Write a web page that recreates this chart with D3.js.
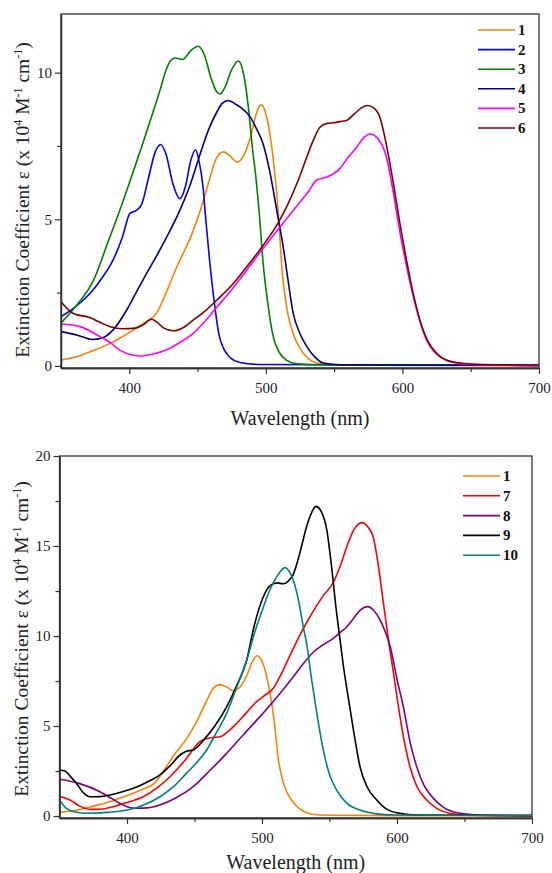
<!DOCTYPE html>
<html>
<head>
<meta charset="utf-8">
<script src="https://cdn.jsdelivr.net/npm/d3@7"></script>
<style>
  html, body { margin: 0; padding: 0; background: #fff; }
  svg { display: block; }
</style>
</head>
<body>
<svg id="chart" width="552" height="873"></svg>
<script>
// ---------------- DATA ----------------
// Top panel: compounds 1-6
const wl1  = [350,364,375,386,395,405,412,420,427,435,445,452,459,464,469,474,479,484,489,493,496.5,500,503,506,509,512,516,520,525,531,537,550,600,700];
const eps1 = [0.2,0.35,0.55,0.77,1.0,1.28,1.5,1.8,2.5,3.4,4.4,5.3,6.4,7.1,7.3,7.15,6.95,7.2,7.85,8.6,8.9,8.6,7.9,6.8,5.3,3.2,1.8,1.1,0.6,0.25,0.1,0.04,0.02,0.01];

const wl2  = [350,360,373.6,380,388,395,400.5,405,409,414,419,423,427,432,437,441,445,448.5,451,454,456,459,462.7,465.5,469,474,481,495,700];
const eps2 = [1.68,2.0,2.6,3.0,3.6,4.4,5.2,5.3,5.5,6.4,7.3,7.55,7.2,6.2,5.7,6.1,7.0,7.37,7.0,6.1,5.0,3.5,2.0,1.1,0.6,0.28,0.12,0.05,0.02];

const wl3  = [350,362,373.6,385,393,400.5,410,417,422.5,427,430,433.5,439,445,450.5,455,460,464,466.5,470,475,479.8,483,487,490,493,495,498,501.5,505.4,510,515,522,535,700];
const eps3 = [1.46,2.1,2.9,4.3,5.3,6.3,7.6,8.6,9.4,10.1,10.4,10.5,10.45,10.75,10.9,10.6,9.8,9.35,9.27,9.5,10.1,10.4,10.1,8.9,7.5,6.3,5.3,3.5,2.1,1.0,0.45,0.2,0.08,0.04,0.02];

const wl4  = [350,362,373,380,388,398,405,412,420,428,436,444,451,458,464,468,472.5,477,482,488.4,493,498,503,508,512.7,516,520,525,530,536,542,555,700];
const eps4 = [1.17,1.05,0.9,0.95,1.22,1.9,2.5,3.1,3.75,4.45,5.2,6.1,7.1,8.05,8.65,8.95,9.05,8.95,8.8,8.5,8.1,7.57,6.6,5.3,4.06,3.0,1.8,1.1,0.66,0.3,0.1,0.04,0.02];

const wl5  = [350,364,378.5,386,393,400,407.8,417,427,437,446.8,455,464,475,486,497,508,520,532,537,544.5,554,560,566.5,571,576.2,581,588.4,593,598,603,608,613,617.7,624,632,642,652,700];
const eps5 = [1.43,1.34,1.0,0.8,0.54,0.4,0.34,0.4,0.54,0.8,1.11,1.5,2.0,2.6,3.27,3.95,4.6,5.3,6.0,6.33,6.44,6.72,7.1,7.46,7.75,7.91,7.8,7.1,6.0,4.6,3.4,2.36,1.5,0.88,0.45,0.2,0.08,0.05,0.02];

const wl6  = [350,359,371,378,386,395,403,410,416.4,420,425,432.2,440,446.8,455,464,475,486,497,508,516,523.7,529,534.7,539.6,545,549.4,554,559,565,570,574.5,579,583.5,588,593,598,603,608,612.8,618,625,632,642,660,700];
const eps6 = [2.19,1.79,1.65,1.5,1.34,1.27,1.28,1.4,1.59,1.5,1.3,1.2,1.32,1.56,1.85,2.24,2.75,3.38,4.05,4.8,5.5,6.33,7.0,7.69,8.14,8.27,8.29,8.33,8.37,8.6,8.8,8.88,8.8,8.48,7.6,6.33,4.9,3.6,2.45,1.56,0.9,0.43,0.2,0.1,0.05,0.03];

// Bottom panel: compounds 1, 7-10
const wl7  = [350,357.8,365,372.6,380,389.8,400,412,422,431.8,443,454,462,469,475,481.3,488,496,502,508.4,513,520,527,535,545,553,558,563,568,574,578,582.4,586,590,594,597.3,600,605,609.6,615,622,630,639,650,700];
const eps7 = [1.1,0.89,0.55,0.37,0.38,0.52,0.75,1.07,1.55,2.18,3.1,4.13,4.35,4.4,4.7,5.15,5.7,6.35,6.7,7.1,7.7,8.8,9.9,11.0,12.2,13.0,13.9,15.0,15.9,16.3,16.1,15.5,14.0,11.8,9.6,8.0,6.6,4.3,2.74,1.6,0.89,0.4,0.15,0.06,0.02];

const wl8  = [350,365,380,388,394.8,400,407,415,424.4,436,449,461,473.8,486,498.5,511,523.2,531,538,545,552.8,558,562.7,568,573,578.3,583,587.4,591,595,600,604.7,610,614.6,620,627,635,646.7,660,700];
const eps8 = [2.04,1.8,1.35,1.0,0.7,0.52,0.43,0.45,0.61,1.0,1.63,2.5,3.48,4.5,5.52,6.6,7.74,8.5,9.1,9.5,9.87,10.2,10.5,11.0,11.45,11.63,11.4,10.9,10.3,9.4,7.6,6.07,4.0,2.74,1.7,0.98,0.45,0.15,0.06,0.02];

const wl9  = [350,354,358,362.7,367,372.6,380,387.4,396,404.7,414,424.4,432,439.3,444,449,456.5,465,473.8,481,488.7,494,500,506,511,515.8,520,523,528,533,537,540,544,548,551,555.3,557.8,560,565,569,572.6,578,585,592,602,615,700];
const eps9 = [2.56,2.5,2.2,1.8,1.35,1.07,1.08,1.17,1.33,1.54,1.85,2.28,2.8,3.39,3.6,3.67,4.2,5.0,6.07,7.2,8.67,10.5,12.0,12.8,12.95,12.9,13.1,13.4,14.6,16.07,16.9,17.2,16.9,15.9,14.2,11.26,9.8,8.5,6.07,4.2,2.74,1.6,0.89,0.4,0.15,0.06,0.02];

const wl10  = [350,355,362,370,385,400,412,424.4,434,444,452,459,466,473.8,481,488.7,495,501,506,511,517,520,523.2,527,530.6,533,536.8,540,545.4,550,555.3,563,572.6,585,597,700];
const eps10 = [0.89,0.43,0.22,0.15,0.2,0.33,0.6,1.07,1.6,2.37,3.0,3.67,4.6,5.7,7.1,8.67,10.3,11.6,12.6,13.3,13.8,13.6,13.1,12.0,10.5,9.6,7.56,6.0,3.67,2.3,1.44,0.7,0.33,0.12,0.06,0.02];

const topLabels    = ["1","2","3","4","5","6"];
const bottomLabels = ["1","7","8","9","10"];
const topColors    = ["#FF8000","#0000FF","#008000","#000080","#FF00FF","#800000"];
const bottomColors = ["#FF8000","#FF0000","#800080","#000000","#008080"];

const xTicks = [400,500,600,700];
const xMinor = [450,550,650];
const yTicksTop = [0,5,10];
const yMinorTop = [2.5,7.5];
const yTicksBottom = [0,5,10,15,20];
const yMinorBottom = [2.5,7.5,12.5,17.5];

// ---------------- DRAW ----------------
const svg = d3.select("#chart");
const FONT = "'Liberation Serif','Times New Roman',serif";

function zip(w, e) { return w.map((d, i) => ({ x: d, y: e[i] })); }

function panel(cfg) {
  const x = d3.scaleLinear().domain([350, 700]).range([cfg.left, cfg.right]);
  const y = d3.scaleLinear().domain(cfg.yDomain).range([cfg.bottom, cfg.top]);
  const g = svg.append("g");

  // frame
  g.append("rect")
    .attr("x", cfg.left).attr("y", cfg.top)
    .attr("width", cfg.right - cfg.left).attr("height", cfg.bottom - cfg.top)
    .attr("fill", "none").attr("stroke", "#333").attr("stroke-width", 1.3);

  // series
  const line = d3.line().x(d => x(d.x)).y(d => y(d.y)).curve(d3.curveMonotoneX);
  cfg.series.forEach((s, i) => {
    g.append("path")
      .datum(zip(s[0], s[1]))
      .attr("fill", "none")
      .attr("stroke", cfg.colors[i])
      .attr("stroke-width", 1.6)
      .attr("stroke-linejoin", "round")
      .attr("d", line);
  });

  // x axis
  const xa = g.append("g").attr("transform", `translate(0,${cfg.bottom})`)
    .call(d3.axisBottom(x).tickValues(xTicks).tickFormat(d3.format("d")).tickSize(6).tickPadding(8).tickSizeOuter(0));
  const xm = g.append("g").attr("transform", `translate(0,${cfg.bottom})`)
    .call(d3.axisBottom(x).tickValues(xMinor).tickFormat("").tickSize(4).tickSizeOuter(0));
  // y axis
  const ya = g.append("g").attr("transform", `translate(${cfg.left},0)`)
    .call(d3.axisLeft(y).tickValues(cfg.yTicks).tickFormat(d3.format("d")).tickSize(6).tickPadding(3).tickSizeOuter(0));
  const ym = g.append("g").attr("transform", `translate(${cfg.left},0)`)
    .call(d3.axisLeft(y).tickValues(cfg.yMinor).tickFormat("").tickSize(4).tickSizeOuter(0));
  [xa, xm, ya, ym].forEach(a => {
    a.select(".domain").attr("stroke", "#333").attr("stroke-width", 1.3);
    a.selectAll(".tick line").attr("stroke", "#333").attr("stroke-width", 1.2);
    a.selectAll("text").attr("font-family", FONT).attr("font-size", 15).attr("fill", "#222");
  });

  // x title
  g.append("text")
    .attr("x", (cfg.left + cfg.right) / 2).attr("y", cfg.xTitleY)
    .attr("text-anchor", "middle")
    .attr("font-family", FONT).attr("font-size", 20).attr("fill", "#222")
    .text("Wavelength (nm)");

  // y title
  const yt = g.append("text")
    .attr("transform", `translate(${cfg.yTitleX},${cfg.yTitleCY}) rotate(-90)`)
    .attr("text-anchor", "middle")
    .attr("font-family", FONT).attr("font-size", 19.5).attr("fill", "#222");
  yt.append("tspan").text("Extinction Coefficient \u03B5 (x 10");
  yt.append("tspan").attr("font-size", 12).attr("dy", -7).text("4");
  yt.append("tspan").attr("dy", 7).text(" M");
  yt.append("tspan").attr("font-size", 12).attr("dy", -7).text("-1");
  yt.append("tspan").attr("dy", 7).text(" cm");
  yt.append("tspan").attr("font-size", 12).attr("dy", -7).text("-1");
  yt.append("tspan").attr("dy", 7).text(")");

  // legend
  cfg.labels.forEach((lab, i) => {
    const ly = cfg.legY + i * cfg.legStep;
    g.append("line")
      .attr("x1", cfg.legX1).attr("x2", cfg.legX2)
      .attr("y1", ly).attr("y2", ly)
      .attr("stroke", cfg.colors[i]).attr("stroke-width", 1.6);
    g.append("text")
      .attr("x", cfg.legX2 + 3).attr("y", ly + 5)
      .attr("font-family", FONT).attr("font-size", 15).attr("font-weight", "bold").attr("fill", "#111")
      .text(lab);
  });
}

panel({
  left: 61, right: 539, top: 14, bottom: 368,
  yDomain: [-0.07, 12],
  yTicks: yTicksTop, yMinor: yMinorTop,
  series: [[wl1, eps1], [wl2, eps2], [wl3, eps3], [wl4, eps4], [wl5, eps5], [wl6, eps6]],
  colors: topColors, labels: topLabels,
  xTitleY: 425, yTitleX: 29, yTitleCY: 200,
  legX1: 478, legX2: 515, legY: 30, legStep: 19.6
});

panel({
  left: 59.5, right: 532, top: 456, bottom: 818,
  yDomain: [-0.11, 20],
  yTicks: yTicksBottom, yMinor: yMinorBottom,
  series: [[wl1, eps1], [wl7, eps7], [wl8, eps8], [wl9, eps9], [wl10, eps10]],
  colors: bottomColors, labels: bottomLabels,
  xTitleY: 869, yTitleX: 28, yTitleCY: 639,
  legX1: 463, legX2: 500, legY: 476, legStep: 19.8
});
</script>
</body>
</html>
